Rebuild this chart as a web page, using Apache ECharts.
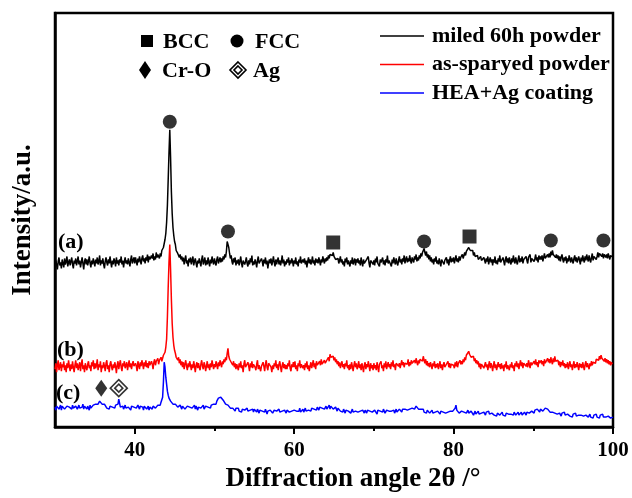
<!DOCTYPE html>
<html>
<head>
<meta charset="utf-8">
<script src="https://cdn.jsdelivr.net/npm/echarts@6/dist/echarts.min.js"></script>
<style>html,body{margin:0;padding:0;background:#fff}#c{width:632px;height:498px}</style>
</head>
<body>
<div id="c"></div>
<script>
// sampling grid of the scans (2θ, degrees): one row below = one degree
const xStart = 30, xStep = 0.1;
const seriesNames = ['miled 60h powder', 'as-sparyed powder', 'HEA+Ag coating'];
const majorTicks = [40, 60, 80, 100];
const minorTicks = [50, 70, 90];

// (a) milled 60 h powder, offset intensity (a.u.)
const milled = [
161,167,163,158,166,170,162,165,159,168,
164,160,169,163,166,171,161,165,168,162,
166,170,163,159,167,164,169,162,166,171,
163,167,160,165,170,164,158,166,169,163,
168,162,166,171,164,160,167,163,169,165,
161,168,164,170,163,166,172,162,167,164,
169,163,159,166,170,165,162,168,164,171,
165,160,167,163,169,166,161,170,164,167,
162,168,165,171,163,167,160,166,170,164,
167,163,169,165,161,168,172,164,166,170,
164,170,166,162,169,165,171,167,163,169,
172,166,169,164,170,167,173,165,171,168,
166,172,169,174,167,171,168,175,170,173,
172,169,174,171,177,175,180,182,188,194,
205,222,248,275,298,270,236,214,200,192,
186,183,177,179,174,176,170,173,168,171,
166,170,163,168,172,164,167,161,169,165,
170,163,167,171,162,166,169,164,160,167,
164,169,165,161,168,172,163,166,170,162,
167,163,170,165,161,168,164,171,166,163,
169,165,162,168,171,164,167,170,165,169,
166,171,168,173,170,176,186,188,180,174,
169,172,166,163,169,165,170,162,167,164,
168,162,166,171,164,160,167,169,163,166,
170,164,161,167,163,169,165,172,162,166,
163,168,165,160,167,171,164,166,162,169,
166,161,168,164,170,163,167,159,165,168,
164,169,162,166,171,165,161,168,163,167,
170,163,167,162,166,172,164,168,161,166,
163,168,165,170,162,167,164,169,166,161,
167,164,170,163,166,161,168,165,171,164,
162,168,165,169,163,167,160,166,170,164,
168,163,166,171,164,167,162,169,165,168,
164,170,166,162,168,165,171,167,164,169,
166,170,167,172,169,173,171,174,172,175,
171,173,168,170,166,169,164,167,171,165,
168,163,166,161,169,165,170,163,167,164,
161,167,164,170,163,166,169,162,168,165,
169,164,167,162,170,165,161,168,164,166,
163,168,166,171,164,160,167,165,169,163,
167,162,169,165,171,164,166,161,168,165,
164,170,163,167,162,168,165,172,164,167,
169,165,161,168,164,170,166,163,169,165,
162,167,171,165,168,163,169,166,172,164,
168,171,165,169,166,172,167,164,170,168,
165,171,168,173,166,170,167,172,169,174,
171,175,177,179,175,172,176,170,173,168,
172,166,170,165,168,163,169,166,171,164,
167,163,169,165,161,168,166,170,163,167,
165,170,164,168,162,167,171,165,169,166,
170,164,168,172,166,169,165,171,167,170,
168,173,169,171,175,172,176,178,176,180,
181,177,179,175,177,172,175,171,173,169,
172,168,170,166,171,167,169,165,170,167,
164,169,166,171,163,167,170,165,168,162,
168,165,171,164,167,163,169,166,172,165,
167,163,170,166,162,168,171,165,169,164,
170,166,163,169,165,172,167,164,170,166,
163,168,172,165,169,166,171,164,168,170,
166,171,167,164,170,168,173,165,169,167,
171,166,169,173,167,170,165,172,168,171,
168,172,166,170,174,169,171,167,173,170,
174,170,176,172,177,173,171,175,170,173,
169,172,167,171,166,170,173,168,165,170,
167,171,164,169,166,172,168,165,170,167,
164,169,172,166,170,165,168,171,167,163,
170,166,172,168,165,171,167,173,169,166,
172,168,165,170,174,167,171,169,173,168,
171,175,170,174,172,176,171,174,169,173,
175,170,173,169,174,171,168,172,170,173,
170];

// (b) as-sprayed powder
const sprayed = [
58,64,55,62,67,57,61,65,56,63,
60,66,57,62,55,64,59,67,61,56,
63,58,66,60,55,62,67,59,64,57,
61,65,56,63,68,58,62,55,64,60,
57,63,66,59,62,56,65,61,67,58,
64,59,62,68,57,63,60,66,55,62,
59,65,61,56,64,67,58,62,55,63,
66,60,57,63,59,65,61,54,62,66,
58,63,67,60,56,64,61,66,59,62,
65,57,62,67,60,64,58,63,66,61,
59,64,61,56,66,62,58,65,61,67,
63,58,65,61,67,60,64,59,66,62,
60,66,63,58,65,68,62,66,64,69,
63,67,65,70,66,69,72,71,75,80,
88,110,140,165,183,158,128,104,90,82,
77,74,70,72,67,70,64,68,62,66,
60,65,58,63,67,61,57,64,60,66,
62,57,63,59,66,61,55,62,65,59,
64,60,57,63,67,61,58,65,62,56,
61,66,59,63,57,64,60,67,62,58,
63,60,66,62,58,65,61,67,63,60,
66,63,68,65,70,67,74,79,71,68,
70,65,67,62,66,60,64,58,63,61,
57,64,60,66,59,62,55,63,67,60,
62,58,65,61,56,64,60,66,59,63,
65,60,57,63,67,58,62,64,56,61,
59,65,61,56,63,67,60,57,64,62,
66,60,55,62,58,64,61,67,59,63,
57,63,66,60,55,62,65,59,63,58,
62,58,64,61,67,59,56,63,60,65,
60,66,58,62,56,64,61,67,59,63,
65,59,62,57,64,60,66,58,62,56,
61,65,59,63,67,60,64,58,66,62,
64,60,66,62,68,63,65,61,67,64,
63,67,65,70,66,73,70,72,68,71,
67,70,65,68,63,66,61,65,59,63,
66,60,63,58,64,61,67,59,62,57,
63,58,65,61,56,62,66,60,64,58,
61,66,59,63,57,64,60,55,62,65,
58,63,60,66,61,56,64,59,62,57,
64,59,62,57,65,60,55,63,61,66,
59,62,56,64,60,66,58,62,65,60,
63,58,65,61,67,60,63,57,64,62,
66,61,64,59,63,67,62,65,60,64,
62,66,63,68,61,65,62,67,64,66,
63,67,64,69,65,62,67,64,68,66,
70,66,71,67,64,68,62,66,61,64,
60,65,62,58,64,61,66,59,63,60,
64,58,62,66,59,63,57,62,65,60,
58,63,61,66,60,64,59,63,61,65,
62,59,65,61,66,60,64,62,67,63,
66,63,68,65,70,67,72,70,74,76,
73,75,70,72,68,71,66,69,64,67,
63,66,60,64,58,63,61,65,59,62,
65,60,63,57,62,66,59,64,61,56,
62,66,59,63,57,61,65,60,63,58,
64,59,62,56,63,60,66,58,62,61,
57,63,60,65,59,62,56,64,61,66,
60,64,58,63,67,61,65,59,64,62,
66,61,64,60,67,63,59,65,62,64,
61,66,63,68,62,65,60,67,64,62,
67,63,66,61,68,64,66,62,69,65,
68,64,70,66,63,69,65,71,66,68,
64,67,62,66,60,65,62,67,61,64,
59,63,60,65,58,62,66,60,63,57,
62,66,59,63,60,65,61,57,64,60,
63,59,65,61,57,63,66,60,64,62,
58,64,61,66,62,65,63,67,64,68,
66,70,67,71,68,72,69,67,70,66,
69,65,68,64,67,63,66,62,65,63,
64];

// (c) HEA+Ag coating
const coating = [
20,17,21,19,23,18,20,22,17,21,
19,22,18,20,17,21,23,19,20,18,
21,18,22,19,20,17,21,23,18,20,
22,19,17,21,20,23,18,21,19,22,
18,21,20,17,22,19,21,18,22,20,
21,23,22,24,23,25,26,24,25,23,
24,22,23,21,22,19,21,20,18,21,
19,22,20,18,21,19,22,20,21,23,
28,24,20,22,19,21,18,20,22,19,
21,18,20,22,19,17,21,19,22,20,
18,21,19,17,22,20,18,21,19,22,
20,17,21,19,22,18,20,21,17,20,
19,22,18,21,20,23,19,21,20,22,
21,23,22,25,24,30,45,65,60,50,
43,36,32,29,27,26,24,25,23,24,
22,23,21,22,20,21,19,22,20,18,
21,19,22,18,20,17,21,19,22,20,
18,21,19,17,20,22,18,21,19,17,
20,18,21,19,17,20,22,18,19,21,
19,22,20,18,21,19,22,20,21,23,
22,24,23,26,27,29,28,31,30,29,
28,27,25,26,23,24,21,22,20,21,
19,20,17,19,18,20,16,19,17,18,
19,16,18,17,15,18,16,19,17,15,
17,19,16,18,15,17,19,16,18,15,
18,16,17,15,18,16,14,17,15,18,
16,14,17,15,18,16,13,16,17,15,
17,15,18,14,16,17,15,18,16,14,
16,18,15,17,14,16,18,15,17,16,
14,17,16,18,15,17,14,16,18,15,
17,15,18,16,14,17,16,19,15,17,
16,18,15,17,19,16,18,15,17,19,
18,16,19,17,20,18,16,19,17,20,
19,17,20,18,21,19,17,20,18,19,
21,18,20,19,22,18,21,19,20,18,
19,17,20,18,16,19,17,18,16,18,
17,15,18,16,14,17,15,18,16,15,
17,14,16,18,15,17,14,16,15,17,
15,17,14,16,18,15,17,16,14,17,
16,14,17,15,18,16,14,17,15,16,
14,17,15,16,13,17,15,18,16,14,
17,15,18,16,14,16,17,15,17,16,
15,17,16,18,15,17,14,16,18,15,
17,15,18,16,17,15,18,16,17,18,
16,18,17,19,17,18,20,18,19,17,
20,18,19,21,19,20,18,19,17,18,
17,16,18,15,17,16,14,17,15,16,
14,16,15,17,14,16,13,15,17,14,
16,14,15,13,16,14,17,15,13,16,
14,16,13,15,17,14,16,15,17,16,
18,16,19,22,17,15,17,14,16,15,
16,14,17,15,13,16,14,15,17,14,
15,13,16,14,15,12,14,16,13,15,
14,16,13,15,12,14,16,13,15,14,
12,15,13,14,16,13,12,15,14,13,
15,12,14,13,11,14,13,15,12,14,
13,15,12,14,13,11,14,12,15,13,
12,14,13,11,14,12,15,13,12,14,
13,15,12,14,13,15,12,14,13,15,
14,12,15,13,16,14,15,13,16,15,
16,14,17,15,16,18,16,17,15,18,
17,19,16,18,17,19,18,17,18,16,
17,15,16,14,15,13,15,14,12,14,
13,15,12,14,13,11,14,12,13,15,
12,14,11,13,12,14,11,13,12,10,
13,11,12,14,11,13,10,12,11,13,
12,10,13,11,12,10,12,11,13,10,
11,13,10,12,11,9,12,10,11,13,
10,12,11,9,12,10,11,13,10,11,
12,10,11,9,11,10,12,9,11,10,
10];

// phase markers [2θ, intensity position]
const fccMarks = [[44.4,306],[51.7,196],[76.3,186],[92.2,187],[98.8,187]];
const bccMarks = [[64.9,185],[82.0,191]];
const croMarks = [[35.8,39]];
const agMarks  = [[38.0,39]];

const toPairs = arr => arr.map((v, i) => [+(xStart + i * xStep).toFixed(1), v]);

const FONT = '"Liberation Serif","Times New Roman",serif';
const chart = echarts.init(document.getElementById('c'), null, {renderer: 'canvas'});

function lineSeries(name, arr, color) {
  return {
    name, type: 'line', data: toPairs(arr), showSymbol: false, symbol: 'none',
    lineStyle: {color, width: 1.5}, itemStyle: {color}, z: 2
  };
}
function txt(text, x, y, size) {
  return {type: 'text', x, y, style: {text, fill: '#000', font: 'bold ' + size + 'px ' + FONT, verticalAlign: 'middle'}};
}

chart.setOption({
  animation: false,
  backgroundColor: '#fff',
  grid: {left: 55, right: 19, top: 13, bottom: 70, show: true, borderColor: '#000', borderWidth: 2.5},
  legend: {
    data: seriesNames, orient: 'vertical', left: 375, top: 20,
    icon: 'rect', itemWidth: 44, itemHeight: 1.5, itemGap: 6.5,
    textStyle: {fontFamily: FONT, fontWeight: 'bold', fontSize: 22, lineHeight: 22, color: '#000', padding: [0, 0, 0, 3]}
  },
  xAxis: [{
    type: 'value', min: 30, max: 100, interval: 10,
    name: 'Diffraction angle 2θ /°', nameLocation: 'middle', nameGap: 33,
    nameTextStyle: {fontFamily: FONT, fontWeight: 'bold', fontSize: 27, color: '#000', padding: [0, 0, 0, 38]},
    axisLine: {show: true, lineStyle: {color: '#000', width: 2.5}},
    axisTick: {show: true, customValues: majorTicks, length: 7, lineStyle: {color: '#000', width: 2}},
    axisLabel: {customValues: majorTicks, margin: 13, fontFamily: FONT, fontWeight: 'bold', fontSize: 21, color: '#000'},
    splitLine: {show: false}
  }, {
    type: 'value', min: 30, max: 100, interval: 10, position: 'bottom',
    axisLine: {show: false},
    axisTick: {show: true, customValues: minorTicks, length: 4, lineStyle: {color: '#000', width: 2}},
    axisLabel: {show: false}, splitLine: {show: false}
  }],
  yAxis: {
    type: 'value', min: 0, max: 415,
    name: 'Intensity/a.u.', nameLocation: 'middle', nameGap: 18, nameRotate: 90,
    nameTextStyle: {fontFamily: FONT, fontWeight: 'bold', fontSize: 27, color: '#000'},
    axisLine: {show: true, lineStyle: {color: '#000', width: 2.5}},
    axisTick: {show: false}, axisLabel: {show: false}, splitLine: {show: false}
  },
  series: [
    lineSeries(seriesNames[0], milled, '#000000'),
    lineSeries(seriesNames[1], sprayed, '#ff0000'),
    lineSeries(seriesNames[2], coating, '#0000ff'),
    {type: 'scatter', data: fccMarks, symbol: 'circle', symbolSize: 14, itemStyle: {color: '#000'}, z: 5},
    {type: 'scatter', data: bccMarks, symbol: 'rect', symbolSize: 14, itemStyle: {color: '#000'}, z: 5},
    {type: 'scatter', data: croMarks, symbol: 'diamond', symbolSize: [12, 17], itemStyle: {color: '#000'}, z: 5},
    {type: 'scatter', data: agMarks, symbol: 'diamond', symbolSize: 17, itemStyle: {color: '#fff', borderColor: '#000', borderWidth: 1.6}, z: 5},
    {type: 'scatter', data: agMarks, symbol: 'diamond', symbolSize: 8, itemStyle: {color: '#fff', borderColor: '#000', borderWidth: 1.6}, z: 6}
  ],
  graphic: [
    {type: 'rect', shape: {x: 141, y: 35, width: 12, height: 12}, style: {fill: '#000'}},
    txt('BCC', 163, 42, 22),
    {type: 'circle', shape: {cx: 237, cy: 41, r: 6.5}, style: {fill: '#000'}},
    txt('FCC', 255, 42, 22),
    {type: 'polygon', shape: {points: [[145, 61], [151, 70], [145, 79], [139, 70]]}, style: {fill: '#000'}},
    txt('Cr-O', 162, 71, 22),
    {type: 'polygon', shape: {points: [[238, 62], [246, 70], [238, 78], [230, 70]]}, style: {fill: '#fff', stroke: '#000', lineWidth: 1.6}},
    {type: 'polygon', shape: {points: [[238, 66], [242, 70], [238, 74], [234, 70]]}, style: {fill: '#fff', stroke: '#000', lineWidth: 1.6}},
    txt('Ag', 253, 71, 22),
    txt('(a)', 58, 242, 22),
    txt('(b)', 57, 350, 22),
    txt('(c)', 56, 393, 22)
  ]
});
</script>
</body>
</html>
